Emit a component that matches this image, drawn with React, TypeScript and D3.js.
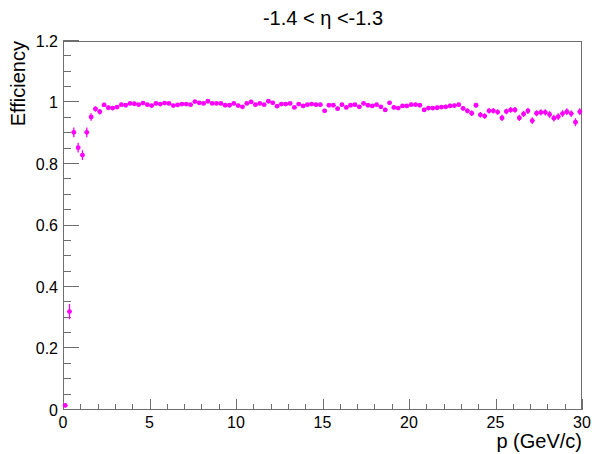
import React from "react";
import * as d3 from "d3";

const TITLE = "-1.4 < η <-1.3";
const X_LABEL = "p (GeV/c)";
const Y_LABEL = "Efficiency";
const X_DOMAIN = [0, 30];
const Y_DOMAIN = [0, 1.2];
const BIN_WIDTH = 0.25;
const X_TICKS = [0, 5, 10, 15, 20, 25, 30];
const Y_TICKS = [0, 0.2, 0.4, 0.6, 0.8, 1, 1.2];

const efficiency = [
  0.015, 0.32, 0.903, 0.853, 0.829, 0.903, 0.953, 0.979, 0.970, 0.992,
  0.983, 0.982, 0.985, 0.993, 0.991, 0.997, 0.996, 0.993, 0.998, 0.993,
  0.990, 0.997, 0.995, 0.998, 0.997, 0.990, 0.992, 0.995, 0.995, 0.993,
  1.003, 0.999, 0.997, 1.004, 0.997, 0.997, 0.997, 0.991, 0.991, 0.997,
  0.990, 0.986, 0.997, 1.002, 0.993, 0.997, 0.993, 1.004, 0.999, 0.988,
  0.995, 0.995, 0.997, 0.984, 0.995, 0.989, 0.993, 0.995, 0.993, 0.993,
  0.973, 0.991, 0.991, 0.980, 0.993, 0.984, 0.991, 0.993, 0.986, 0.997,
  0.991, 0.989, 0.993, 0.986, 0.976, 0.999, 0.984, 0.982, 0.989, 0.989,
  0.993, 0.993, 0.991, 0.976, 0.982, 0.982, 0.983, 0.985, 0.986, 0.989,
  0.990, 0.993, 0.981, 0.973, 0.965, 0.991, 0.960, 0.956, 0.973, 0.973,
  0.969, 0.950, 0.971, 0.976, 0.976, 0.950, 0.963, 0.973, 0.941, 0.965,
  0.968, 0.968, 0.961, 0.949, 0.954, 0.964, 0.970, 0.964, 0.936, 0.970,
];

const errors = [
  0.006, 0.025, 0.016, 0.016, 0.016, 0.016, 0.012, 0.009, 0.009, 0.007,
  0.007, 0.007, 0.006, 0.006, 0.006, 0.005, 0.005, 0.005, 0.005, 0.005,
  0.005, 0.005, 0.005, 0.005, 0.005, 0.005, 0.005, 0.005, 0.005, 0.005,
  0.005, 0.005, 0.005, 0.005, 0.005, 0.005, 0.005, 0.005, 0.005, 0.005,
  0.005, 0.005, 0.005, 0.005, 0.005, 0.005, 0.005, 0.005, 0.005, 0.005,
  0.005, 0.005, 0.005, 0.005, 0.005, 0.005, 0.005, 0.005, 0.005, 0.006,
  0.007, 0.006, 0.006, 0.006, 0.006, 0.006, 0.006, 0.006, 0.006, 0.006,
  0.006, 0.006, 0.006, 0.006, 0.007, 0.006, 0.006, 0.006, 0.006, 0.006,
  0.006, 0.006, 0.006, 0.007, 0.007, 0.007, 0.007, 0.007, 0.007, 0.007,
  0.007, 0.007, 0.008, 0.008, 0.009, 0.008, 0.009, 0.009, 0.009, 0.009,
  0.009, 0.010, 0.009, 0.009, 0.009, 0.010, 0.010, 0.010, 0.011, 0.010,
  0.010, 0.010, 0.011, 0.011, 0.011, 0.011, 0.011, 0.011, 0.013, 0.011,
];

const W = 594;
const H = 454;
const FRAME = { left: 63, right: 582, top: 41, bottom: 410 };
const FONT = "'Liberation Sans', Arial, Helvetica, sans-serif";
const AXIS_COLOR = "#6e6e6e";
const MARKER = "#ff00ff";

export default function App() {
  const x = d3.scaleLinear().domain(X_DOMAIN).range([FRAME.left, FRAME.right]);
  const y = d3.scaleLinear().domain(Y_DOMAIN).range([FRAME.bottom, FRAME.top]);

  const xMinor = d3.range(X_DOMAIN[0], X_DOMAIN[1] + 0.001, 1).filter((v) => v % 5 !== 0);
  const yMinor = d3
    .range(0, 24.5, 1)
    .map((k) => k * 0.05)
    .filter((v, k) => k % 4 !== 0);

  const points = efficiency.map((v, i) => ({
    p: X_DOMAIN[0] + (i + 0.5) * BIN_WIDTH,
    v,
    e: errors[i],
  }));

  return (
    <svg
      width={W}
      height={H}
      style={{ position: "absolute", left: 0, top: 0, background: "#fff" }}
      fontFamily={FONT}
    >
      <rect x={0} y={0} width={W} height={H} fill="#fff" />
      {/* frame */}
      <rect
        x={FRAME.left + 0.5}
        y={FRAME.top + 0.5}
        width={FRAME.right - FRAME.left - 1}
        height={FRAME.bottom - FRAME.top - 1}
        fill="none"
        stroke={AXIS_COLOR}
        strokeWidth={1}
      />
      {/* x ticks */}
      {X_TICKS.map((t) => (
        <line
          key={"xM" + t}
          x1={Math.round(x(t)) + 0.5}
          x2={Math.round(x(t)) + 0.5}
          y1={FRAME.bottom}
          y2={FRAME.bottom - 11}
          stroke={AXIS_COLOR}
        />
      ))}
      {xMinor.map((t) => (
        <line
          key={"xm" + t}
          x1={Math.round(x(t)) + 0.5}
          x2={Math.round(x(t)) + 0.5}
          y1={FRAME.bottom}
          y2={FRAME.bottom - 6}
          stroke={AXIS_COLOR}
        />
      ))}
      {X_TICKS.map((t) => (
        <text key={"xl" + t} x={x(t)} y={428} fontSize={16} textAnchor="middle" fill="#000">
          {t}
        </text>
      ))}
      {/* y ticks */}
      {Y_TICKS.map((t) => (
        <line
          key={"yM" + t}
          x1={FRAME.left}
          x2={FRAME.left + 16}
          y1={Math.round(y(t)) - 0.5}
          y2={Math.round(y(t)) - 0.5}
          stroke={AXIS_COLOR}
        />
      ))}
      {yMinor.map((t) => (
        <line
          key={"ym" + t}
          x1={FRAME.left}
          x2={FRAME.left + 8}
          y1={Math.round(y(t)) - 0.5}
          y2={Math.round(y(t)) - 0.5}
          stroke={AXIS_COLOR}
        />
      ))}
      {Y_TICKS.map((t) => (
        <text
          key={"yl" + t}
          x={58}
          y={y(t) + 5.5}
          fontSize={16}
          textAnchor="end"
          fill="#000"
        >
          {d3.format("~g")(t)}
        </text>
      ))}
      {/* points */}
      {points.map((d, i) => {
        const cx = x(d.p);
        const cy = y(d.v);
        return (
          <g key={"pt" + i}>
            <line
              x1={cx}
              x2={cx}
              y1={y(Math.max(0, d.v - d.e))}
              y2={y(d.v + d.e)}
              stroke={MARKER}
              strokeWidth={1.3}
            />
            <line
              x1={x(d.p - BIN_WIDTH / 2)}
              x2={x(d.p + BIN_WIDTH / 2)}
              y1={cy}
              y2={cy}
              stroke={MARKER}
              strokeWidth={1.3}
            />
            <circle cx={cx} cy={cy} r={2.4} fill={MARKER} />
          </g>
        );
      })}
      {/* titles */}
      <text x={323} y={25} fontSize={20} textAnchor="middle" fill="#000">
        {TITLE}
      </text>
      <text
        transform={`translate(25, ${FRAME.top}) rotate(-90)`}
        fontSize={20}
        textAnchor="end"
        fill="#000"
      >
        {Y_LABEL}
      </text>
      <text x={FRAME.right} y={448} fontSize={20} textAnchor="end" fill="#000">
        {X_LABEL}
      </text>
    </svg>
  );
}
